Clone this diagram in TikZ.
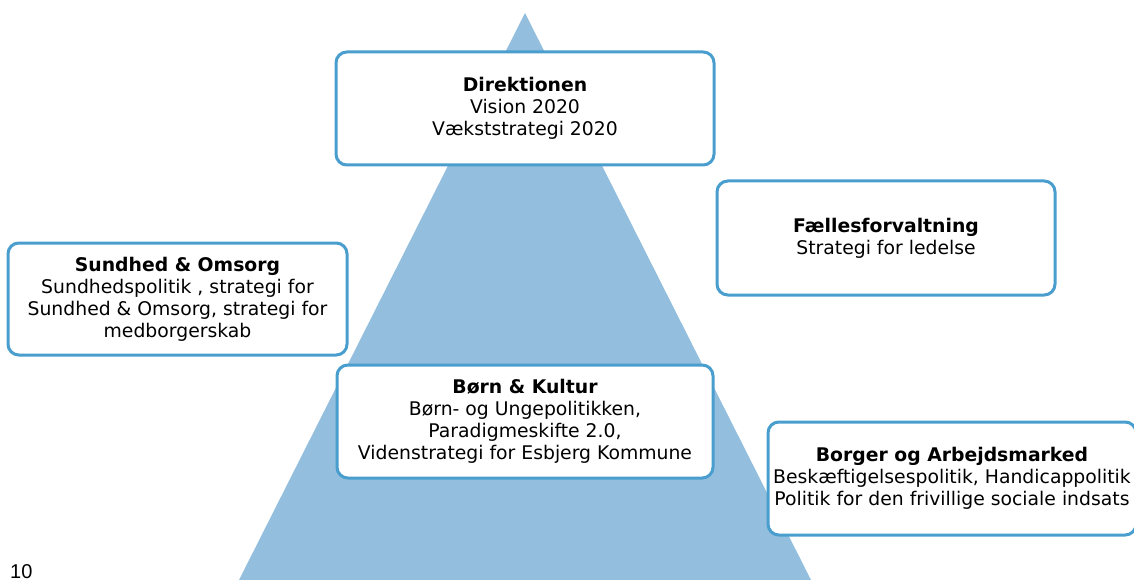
\documentclass[tikz,border=0pt]{standalone}
\usepackage{fontspec}
\setmainfont{DejaVu Sans}
\newfontfamily\slidenumfont{Liberation Sans}
\usepackage{tikz}
\usetikzlibrary{positioning}
\usepackage{xcolor}
\definecolor{BoxBlue}{RGB}{74, 158, 206}
\definecolor{PyramidBlue}{RGB}{148, 190, 221}
\tikzset{%
  unit_box/.style={%
    rectangle,%
    rounded corners=0.15in,%
    draw=BoxBlue,%
    line width=3pt,%
    fill=white,%
    inner sep=0pt,%
    font={\fontsize{18.8}{22}\selectfont},%
    align=center%
  },
  pyramid/.style={%
    fill=PyramidBlue,%
  },
  slide_number/.style={%
    font={\slidenumfont\fontsize{20}{24}\selectfont},%
    inner sep=0pt,%
  },
}
\begin{document}
\begin{tikzpicture}[x=1pt, y=-1pt]

    \clip (0, 0) rectangle (1134, 580);

    \coordinate (base_left) at (239, 580);
    \coordinate (base_right) at (811, 580);
    \coordinate (apex) at (525, 13);
    \fill [pyramid] (base_left) -- (apex) -- (base_right) -- cycle;

    \node [unit_box, minimum width=378, minimum height=113] (Direktion)
      at (525, 108.5)
      {\textbf{Direktionen}\\Vision 2020\\Vækststrategi 2020};
    \node [unit_box, minimum width=339, minimum height=112] (Sundhed)
      at (177.5, 299)
      {\textbf{Sundhed \& Omsorg}\\Sundhedspolitik , strategi for\\%
       Sundhed \& Omsorg, strategi for\\medborgerskab};
    \node [unit_box, minimum width=338, minimum height=114] (Faelles)
      at (886, 238)
      {\textbf{Fællesforvaltning}\\Strategi for ledelse};
    \node [unit_box, minimum width=376, minimum height=113] (Boern)
      at (525, 421.5)
      {\textbf{Børn \& Kultur}\\Børn- og Ungepolitikken,\\%
       Paradigmeskifte 2.0,\\Videnstrategi for Esbjerg Kommune};
    \node [unit_box, minimum width=368, minimum height=113] (Borger)
      at (952, 478.5)
      {\textbf{Borger og Arbejdsmarked}\\%
       Beskæftigelsespolitik, Handicappolitik\\%
       Politik for den frivillige sociale indsats};

    \node [slide_number, anchor=base west] (page_no) at (10, 578) {10};
  \end{tikzpicture}
\end{document}
